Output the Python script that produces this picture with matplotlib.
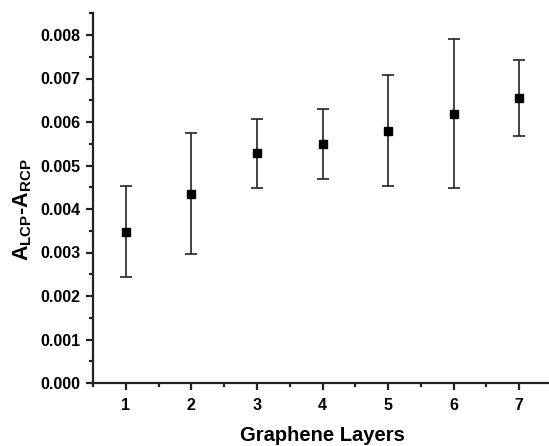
import matplotlib
matplotlib.use("Agg")
import matplotlib.pyplot as plt
from matplotlib.ticker import MultipleLocator, FormatStrFormatter

plt.rcParams["font.family"] = ["Liberation Sans", "DejaVu Sans"]
plt.rcParams["font.weight"] = "bold"
plt.rcParams["mathtext.fontset"] = "custom"
plt.rcParams["mathtext.rm"] = "Liberation Sans:bold"
plt.rcParams["mathtext.bf"] = "Liberation Sans:bold"

layers = [1, 2, 3, 4, 5, 6, 7]
delta_a = [0.00348, 0.00435, 0.00528, 0.00550, 0.00580, 0.00619, 0.00655]
err = [0.00105, 0.00139, 0.00079, 0.00081, 0.00127, 0.00171, 0.00088]

fig = plt.figure(figsize=(5.49, 4.46), dpi=100)
ax = fig.add_axes([93 / 549, 63 / 446, 459 / 549, 369.75 / 446])

ax.errorbar(layers, delta_a, yerr=err, fmt="s", color="black", ecolor="#222222",
            markersize=5.6, elinewidth=1.2, capsize=4.3, capthick=1.2)

ax.set_xlim(0.5, 7.5)
ax.set_ylim(0, 0.0085)
ax.xaxis.set_major_locator(MultipleLocator(1))
ax.xaxis.set_minor_locator(MultipleLocator(0.5))
ax.yaxis.set_major_locator(MultipleLocator(0.001))
ax.yaxis.set_minor_locator(MultipleLocator(0.0005))
ax.yaxis.set_major_formatter(FormatStrFormatter("%.3f"))

for s in ["top", "right"]:
    ax.spines[s].set_visible(False)
for s in ["left", "bottom"]:
    ax.spines[s].set_linewidth(1.6)
    ax.spines[s].set_color("#222222")

ax.tick_params(which="major", direction="out", length=5, width=1.6, color="#222222",
               labelsize=11.5, pad=4)
ax.tick_params(which="minor", direction="out", length=3, width=1.6, color="#222222")
ax.tick_params(axis="x", which="major", pad=6)

ax.set_xlabel("Graphene Layers", fontsize=14.5, fontweight="bold", labelpad=9)
ax.set_ylabel(r"A$_{\mathbf{LCP}}$-A$_{\mathbf{RCP}}$", fontsize=15.5, fontweight="bold")
ax.yaxis.set_label_coords(-0.128, 0.47)

fig.savefig("out.png", dpi=100)
